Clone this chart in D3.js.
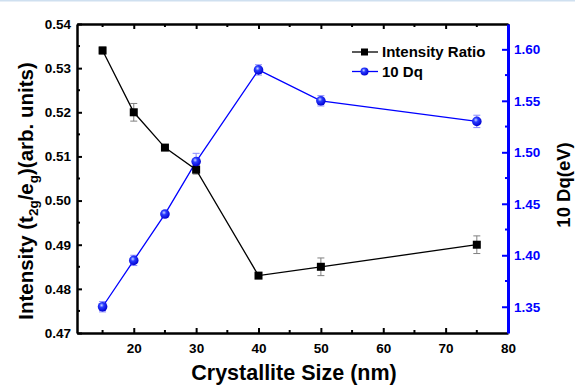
<!DOCTYPE html>
<html><head><meta charset="utf-8">
<script src="https://cdn.jsdelivr.net/npm/d3@7"></script>
<style>body{margin:0;background:#fff}svg{display:block;font-family:"Liberation Sans",Arial,sans-serif;font-weight:bold}</style>
</head><body><svg id="c" width="575" height="385"></svg>
<script>
const sizes = [15, 20, 25, 30, 40, 50, 75];
const intensityRatio = [0.534, 0.520, 0.512, 0.507, 0.483, 0.485, 0.490];
const intensityErr = [0.0008, 0.002, 0.0005, 0.001, 0.0005, 0.002, 0.002];
const tenDq = [1.350, 1.395, 1.440, 1.491, 1.580, 1.550, 1.530];
const tenDqErr = [0.005, 0.005, 0.003, 0.008, 0.005, 0.005, 0.006];
const xTicks = [20, 30, 40, 50, 60, 70, 80];
const yLeftTicks = [0.47, 0.48, 0.49, 0.50, 0.51, 0.52, 0.53, 0.54];
const yRightTicks = [1.35, 1.40, 1.45, 1.50, 1.55, 1.60];

const svg = d3.select("#c");
const L = 77, R = 508, T = 24, B = 333;
const x = d3.scaleLinear().domain([10.9, 80]).range([L, R]);
const yL = d3.scaleLinear().domain([0.47, 0.54]).range([B, T]);
const yR = d3.scaleLinear().domain([1.3245, 1.6246]).range([B, T]);

svg.append("line").attr("x1",0).attr("x2",575).attr("y1",0.5).attr("y2",0.5).attr("stroke","#cfe0f0").attr("stroke-width",2);

const defs = svg.append("defs");
const g = defs.append("radialGradient").attr("id","ball").attr("cx","40%").attr("cy","35%").attr("r","65%");
g.append("stop").attr("offset","0%").attr("stop-color","#c8d8ff");
g.append("stop").attr("offset","35%").attr("stop-color","#2a3cff");
g.append("stop").attr("offset","100%").attr("stop-color","#0000d0");

// axes
const xMinor = d3.range(15, 80, 10);
const axBottom = svg.append("g").attr("transform",`translate(0,${B})`)
  .call(d3.axisBottom(x).tickValues(xTicks).tickFormat(d3.format("d")).tickSizeInner(-5).tickSizeOuter(0).tickPadding(10));
axBottom.append("g").selectAll("line").data(xMinor).join("line").attr("x1",d=>x(d)).attr("x2",d=>x(d)).attr("y1",0).attr("y2",-3).attr("stroke","#000").attr("stroke-width",2);
const axTop = svg.append("g").attr("transform",`translate(0,${T})`)
  .call(d3.axisTop(x).tickValues(xTicks).tickFormat("").tickSizeInner(-5).tickSizeOuter(0));
axTop.append("g").selectAll("line").data(xMinor).join("line").attr("x1",d=>x(d)).attr("x2",d=>x(d)).attr("y1",0).attr("y2",3).attr("stroke","#000").attr("stroke-width",2);

const axLeft = svg.append("g").attr("transform",`translate(${L},0)`)
  .call(d3.axisLeft(yL).tickValues(yLeftTicks).tickFormat(d3.format(".2f")).tickSizeInner(-5).tickSizeOuter(0).tickPadding(6));
axLeft.append("g").selectAll("line").data(d3.range(0.475, 0.54, 0.01)).join("line").attr("y1",d=>yL(d)).attr("y2",d=>yL(d)).attr("x1",0).attr("x2",3).attr("stroke","#000").attr("stroke-width",2);

const axRight = svg.append("g").attr("transform",`translate(${R},0)`)
  .call(d3.axisRight(yR).tickValues(yRightTicks).tickFormat(d3.format(".2f")).tickSizeInner(-6).tickSizeOuter(0).tickPadding(6));
axRight.append("g").selectAll("line").data(d3.range(1.375, 1.62, 0.05)).join("line").attr("y1",d=>yR(d)).attr("y2",d=>yR(d)).attr("x1",0).attr("x2",-3).attr("stroke","#0000ff").attr("stroke-width",2);

[axBottom, axTop, axLeft].forEach(a => { a.select(".domain").attr("stroke","#000").attr("stroke-width",2.5); a.selectAll(".tick line").attr("stroke","#000").attr("stroke-width",2); a.selectAll("text").attr("fill","#000").attr("font-size",13.5).attr("font-weight","bold").attr("font-family","Liberation Sans, Arial, sans-serif"); });
axRight.select(".domain").attr("stroke","#0000ff").attr("stroke-width",3);
axRight.selectAll(".tick line").attr("stroke","#0000ff").attr("stroke-width",2);
axRight.selectAll("text").attr("fill","#0000ff").attr("font-size",13.5).attr("font-weight","bold").attr("font-family","Liberation Sans, Arial, sans-serif");

// data series
const d1 = sizes.map((s,i)=>({s, v:intensityRatio[i], e:intensityErr[i]}));
const d2 = sizes.map((s,i)=>({s, v:tenDq[i], e:tenDqErr[i]}));

function errBars(data, y, color){
  const gg = svg.append("g").attr("stroke",color).attr("stroke-width",1);
  data.forEach(d=>{
    const cx = x(d.s), y1 = y(d.v - d.e), y2 = y(d.v + d.e);
    gg.append("line").attr("x1",cx).attr("x2",cx).attr("y1",y1).attr("y2",y2);
    gg.append("line").attr("x1",cx-3.5).attr("x2",cx+3.5).attr("y1",y1).attr("y2",y1);
    gg.append("line").attr("x1",cx-3.5).attr("x2",cx+3.5).attr("y1",y2).attr("y2",y2);
  });
}
errBars(d1, yL, "#808080");
errBars(d2, yR, "#8a8aff");

svg.append("path").datum(d1).attr("fill","none").attr("stroke","#000").attr("stroke-width",1.3)
  .attr("d", d3.line().x(d=>x(d.s)).y(d=>yL(d.v)));
svg.append("path").datum(d2).attr("fill","none").attr("stroke","#0000ff").attr("stroke-width",1.3)
  .attr("d", d3.line().x(d=>x(d.s)).y(d=>yR(d.v)));

svg.append("g").selectAll("rect").data(d1).join("rect")
  .attr("x",d=>x(d.s)-4).attr("y",d=>yL(d.v)-4).attr("width",8).attr("height",8).attr("fill","#000");
svg.append("g").selectAll("circle").data(d2).join("circle")
  .attr("cx",d=>x(d.s)).attr("cy",d=>yR(d.v)).attr("r",4.8).attr("fill","url(#ball)");

// legend
const lg = svg.append("g");
lg.append("line").attr("x1",352).attr("x2",378).attr("y1",52).attr("y2",52).attr("stroke","#000").attr("stroke-width",1.3);
lg.append("rect").attr("x",361).attr("y",48.5).attr("width",7).attr("height",7).attr("fill","#000");
lg.append("text").attr("x",382).attr("y",56.5).attr("font-size",15).text("Intensity Ratio");
lg.append("line").attr("x1",352).attr("x2",378).attr("y1",71.5).attr("y2",71.5).attr("stroke","#0000ff").attr("stroke-width",1.3);
lg.append("circle").attr("cx",364.5).attr("cy",71.5).attr("r",4).attr("fill","url(#ball)");
lg.append("text").attr("x",382).attr("y",76.5).attr("font-size",15).text("10 Dq");

// titles
svg.append("text").attr("x",294).attr("y",380).attr("text-anchor","middle").attr("font-size",21.5).text("Crystallite Size (nm)");
const yt = svg.append("text").attr("transform",`translate(33,191) rotate(-90)`).attr("text-anchor","middle").attr("font-size",20.5);
yt.append("tspan").text("Intensity (t");
yt.append("tspan").attr("font-size",13.5).attr("dy",4.5).text("2g");
yt.append("tspan").attr("dy",-4.5).text("/e");
yt.append("tspan").attr("font-size",13.5).attr("dy",4.5).text("g");
yt.append("tspan").attr("dy",-4.5).text(")(arb. units)");
svg.append("text").attr("transform",`translate(570,185) rotate(-90)`).attr("text-anchor","middle").attr("font-size",18.5).text("10 Dq(eV)");
</script></body></html>
